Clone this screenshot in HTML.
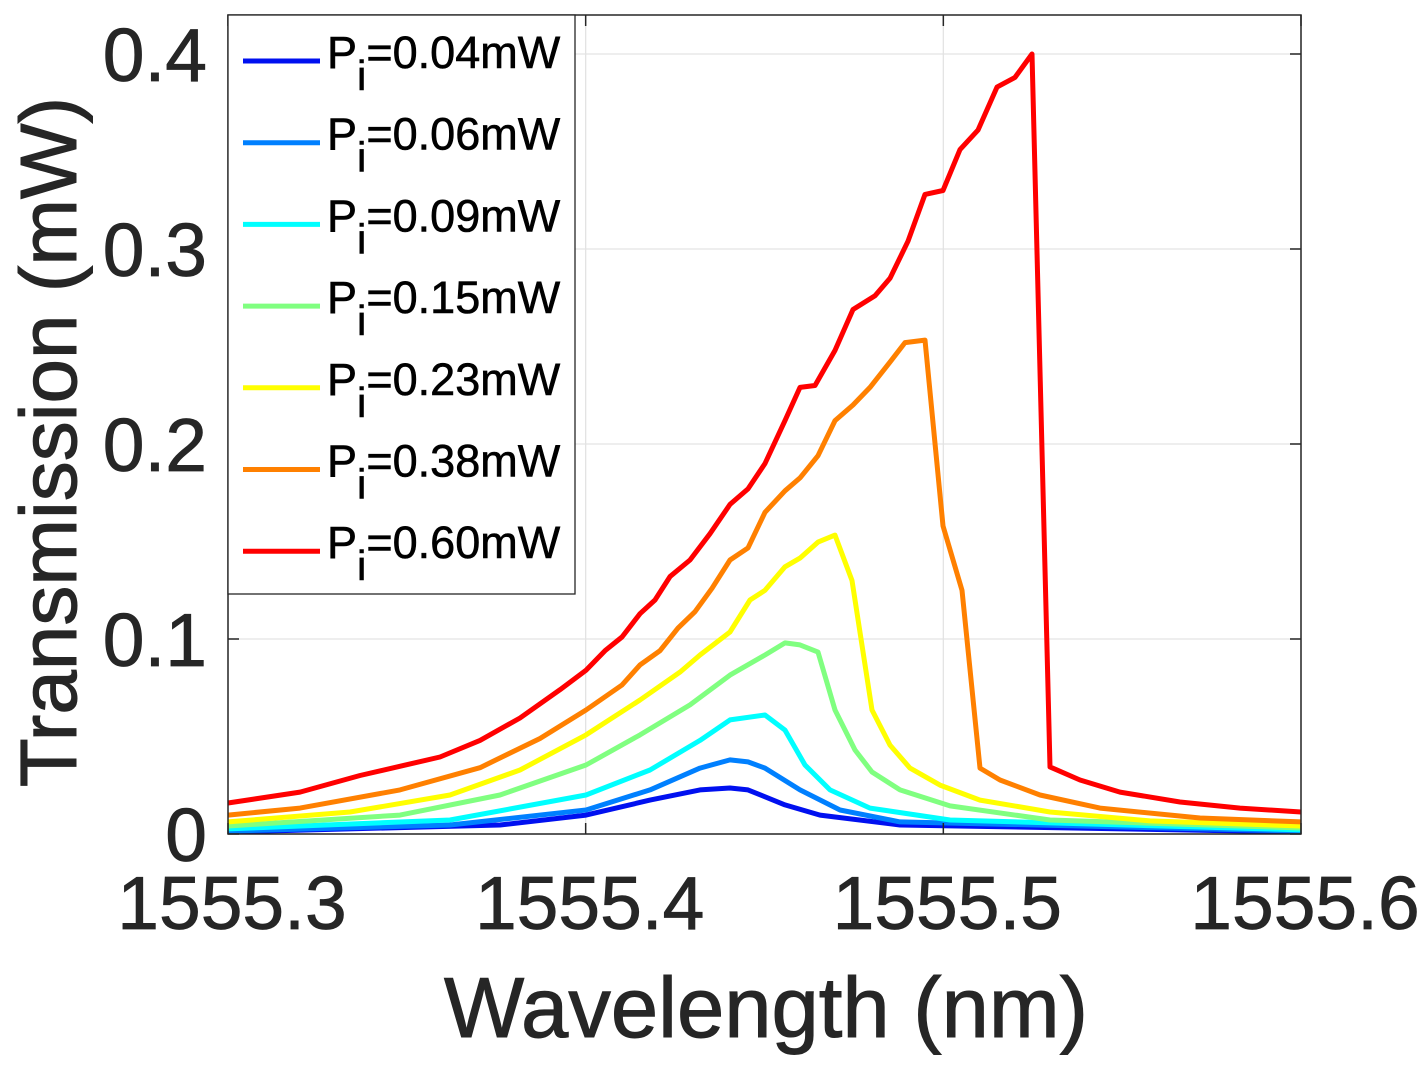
<!DOCTYPE html>
<html><head><meta charset="utf-8"><style>
html,body{margin:0;padding:0;background:#fff;}
svg{display:block;font-family:"Liberation Sans",sans-serif;}
</style></head><body>
<svg id="chart" width="1427" height="1069" viewBox="0 0 1427 1069" xmlns="http://www.w3.org/2000/svg">
<rect x="0" y="0" width="1427" height="1069" fill="#fff"/>
<g id="grid"></g>
<g id="series"></g>
<g id="axes"></g>
<text x="766" y="1037" font-size="85" text-anchor="middle" fill="#262626" stroke="#262626" stroke-width="1">Wavelength (nm)</text>
<text transform="translate(76,442) rotate(-90)" font-size="80" text-anchor="middle" fill="#262626" stroke="#262626" stroke-width="1">Transmission (mW)</text>
<g id="legend"></g>
</svg>
<script>
const xTicks=[1555.3,1555.4,1555.5,1555.6];
const yTicks=[0,0.1,0.2,0.3,0.4];
const seriesLabels=["0.04","0.06","0.09","0.15","0.23","0.38","0.60"];
const seriesColors=["#0010f0","#0080ff","#00ffff","#80ff80","#ffff00","#ff8000","#ff0000"];
const xs0=[228,500,586,650,700,730,748,785,820,900,1301];
const s0=[0.001,0.0046,0.0097,0.0174,0.0226,0.0236,0.0226,0.0149,0.0097,0.0046,0.001];
const xs1=[228,450,586,650,700,730,748,765,800,840,900,1301];
const s1=[0.0015,0.0046,0.0123,0.0226,0.0338,0.038,0.037,0.0338,0.0226,0.0123,0.0062,0.0015];
const xs2=[228,450,586,650,700,730,765,785,805,830,870,950,1301];
const s2=[0.0026,0.0072,0.020,0.0328,0.048,0.0585,0.061,0.0533,0.0354,0.0226,0.0133,0.0072,0.0021];
const xs3=[228,400,500,586,640,690,730,765,785,800,818,835,855,872,900,950,1050,1301];
const s3=[0.0041,0.0097,0.020,0.0354,0.0508,0.0662,0.0815,0.0918,0.098,0.097,0.0933,0.0636,0.0431,0.0318,0.0226,0.0144,0.0072,0.0031];
const xs4=[228,350,450,520,586,640,680,700,730,750,765,785,800,818,835,852,872,890,910,940,980,1050,1150,1301];
const s4=[0.0062,0.0113,0.020,0.0328,0.0508,0.0687,0.083,0.0918,0.1036,0.12,0.125,0.137,0.1415,0.1497,0.1533,0.130,0.0636,0.0456,0.0338,0.0251,0.0174,0.0113,0.0067,0.0041];
const xs5=[228,300,400,480,540,586,622,640,660,678,695,712,730,748,765,785,800,818,835,853,870,890,905,925,943,962,980,1000,1040,1100,1200,1301];
const s5=[0.0097,0.0133,0.0226,0.034,0.049,0.0636,0.0764,0.0867,0.094,0.1056,0.114,0.126,0.1405,0.1467,0.165,0.176,0.1826,0.194,0.212,0.22,0.229,0.242,0.252,0.2533,0.158,0.125,0.0338,0.0277,0.020,0.0133,0.0082,0.0062];
const xs6=[228,300,360,440,480,520,560,586,605,622,640,655,670,690,710,730,748,765,785,800,815,835,853,875,890,908,925,943,960,978,997,1015,1032,1050,1080,1120,1180,1240,1301];
const s6=[0.0159,0.0215,0.030,0.0395,0.048,0.0595,0.074,0.084,0.094,0.101,0.113,0.120,0.132,0.1405,0.154,0.169,0.177,0.190,0.212,0.229,0.230,0.248,0.269,0.276,0.285,0.304,0.328,0.330,0.351,0.361,0.383,0.388,0.400,0.0344,0.0277,0.0215,0.0164,0.0133,0.0113];
const pxX=[xs0,xs1,xs2,xs3,xs4,xs5,xs6];
const vals=[s0,s1,s2,s3,s4,s5,s6];

const L=228,R=1301,T=15,B=834;
const xMin=1555.3,xMax=1555.6,yMin=0,yMax=0.4;
const X=v=>L+(v-xMin)/(xMax-xMin)*(R-L);
const Y=v=>B-(v-yMin)/(0.4)*(B-54);
const lamOf=px=>xMin+(px-L)/(R-L)*(xMax-xMin);
const NS="http://www.w3.org/2000/svg";
function mk(tag,attrs,parent){const e=document.createElementNS(NS,tag);for(const k in attrs)e.setAttribute(k,attrs[k]);parent.appendChild(e);return e;}
const grid=document.getElementById('grid'),axes=document.getElementById('axes'),ser=document.getElementById('series'),leg=document.getElementById('legend');
xTicks.forEach(t=>{
  const gl=mk('line',{x1:X(t),x2:X(t),y1:T,y2:B,stroke:'#e3e3e3','stroke-width':1.3},grid);
  
  
  const tk=mk('line',{x1:X(t),x2:X(t),y1:B,y2:B-11,stroke:'#262626','stroke-width':1.5},axes);
  
  
  const tk2=mk('line',{x1:X(t),x2:X(t),y1:T,y2:T+11,stroke:'#262626','stroke-width':1.5},axes);
  
  
  const lb=mk('text',{x:X(t)+4,y:929,'font-size':75,'text-anchor':'middle',fill:'#262626',stroke:'#262626','stroke-width':0.8},axes);
  lb.textContent=t.toFixed(1);
  
  
});
yTicks.forEach(t=>{
  const gl=mk('line',{x1:L,x2:R,y1:Y(t),y2:Y(t),stroke:'#e3e3e3','stroke-width':1.3},grid);
  
  
  const tk=mk('line',{x1:L,x2:L+11,y1:Y(t),y2:Y(t),stroke:'#262626','stroke-width':1.5},axes);
  
  
  const tk2=mk('line',{x1:R,x2:R-11,y1:Y(t),y2:Y(t),stroke:'#262626','stroke-width':1.5},axes);
  
  
  const lb=mk('text',{x:207,y:Y(t)+27,'font-size':75,'text-anchor':'end',fill:'#262626',stroke:'#262626','stroke-width':0.8},axes);
  lb.textContent=t===0?'0':t.toFixed(1);
  
  
});
const box=mk('rect',{x:L,y:T,width:R-L,height:B-T,fill:'none',stroke:'#262626','stroke-width':1.5},axes);


vals.forEach((arr,i)=>{
  const d=arr.map((v,j)=>(j?'L':'M')+X(lamOf(pxX[i][j])).toFixed(1)+','+Y(v).toFixed(1)).join(' ');
  const p=mk('path',{d:d,fill:'none',stroke:seriesColors[i],'stroke-width':5,'stroke-linejoin':'round'},ser);
  
  
});
const lb=mk('rect',{x:228,y:15,width:347,height:579,fill:'#fff',stroke:'#262626','stroke-width':1.3},leg);


seriesLabels.forEach((s,i)=>{
  const y=61+i*81.7;
  const ln=mk('line',{x1:243,x2:320,y1:y,y2:y,stroke:seriesColors[i],'stroke-width':5},leg);
  
  
  const t=mk('text',{x:327,y:y+7,'font-size':45,fill:'#000',stroke:'#000','stroke-width':0.6},leg);
  
  
  const a=document.createElementNS(NS,'tspan');a.textContent='P';t.appendChild(a);
  const b=document.createElementNS(NS,'tspan');b.setAttribute('dy','22');b.setAttribute('font-size','42');b.textContent='i';t.appendChild(b);
  const c=document.createElementNS(NS,'tspan');c.setAttribute('dy','-22');c.textContent='='+s+'mW';t.appendChild(c);
});
</script>
</body></html>
